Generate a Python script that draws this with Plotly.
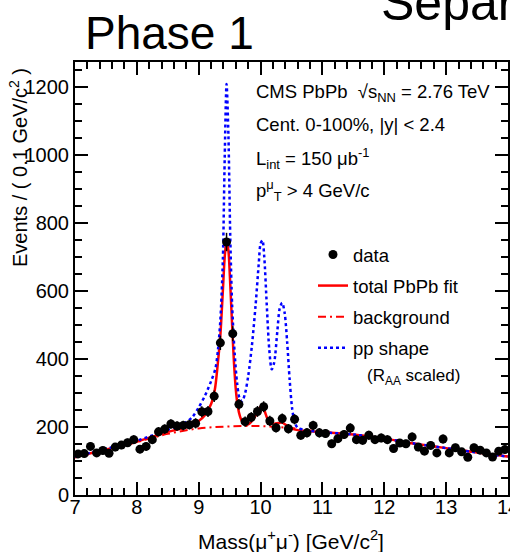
import plotly.graph_objects as go

# ---- data ----
mass_bins = [7.05, 7.15, 7.25, 7.35, 7.45, 7.55, 7.65, 7.75, 7.85, 7.95,
             8.05, 8.15, 8.25, 8.35, 8.45, 8.55, 8.65, 8.75, 8.85, 8.95,
             9.05, 9.15, 9.25, 9.35, 9.45, 9.55, 9.65, 9.75, 9.85, 9.95,
             10.05, 10.15, 10.25, 10.35, 10.45, 10.55, 10.65, 10.75, 10.85, 10.95,
             11.05, 11.15, 11.25, 11.35, 11.45, 11.55, 11.65, 11.75, 11.85, 11.95,
             12.05, 12.15, 12.25, 12.35, 12.45, 12.55, 12.65, 12.75, 12.85, 12.95,
             13.05, 13.15, 13.25, 13.35, 13.45, 13.55, 13.65, 13.75, 13.85, 13.95]
events = [121, 122, 143, 124, 131, 123, 141, 147, 154, 163,
          135, 143, 163, 186, 194, 209, 203, 205, 207, 211,
          245, 246, 291, 448, 745, 475, 267, 216, 229, 246,
          260, 218, 198, 225, 195, 223, 176, 183, 205, 183,
          181, 151, 166, 178, 197, 163, 161, 176, 163, 168,
          163, 137, 153, 151, 171, 141, 129, 146, 124, 165,
          124, 139, 127, 111, 139, 132, 124, 112, 129, 134]
errors = [11, 11, 12, 11, 11, 11, 12, 12, 12, 13,
          12, 12, 13, 14, 14, 14, 14, 14, 14, 15,
          16, 16, 17, 21, 27, 22, 16, 15, 15, 16,
          16, 15, 14, 15, 14, 15, 13, 14, 14, 14,
          13, 12, 13, 13, 14, 13, 13, 13, 13, 13,
          13, 12, 12, 12, 13, 12, 11, 12, 11, 13,
          11, 12, 11, 11, 12, 11, 11, 11, 11, 12]

fit_mass = [7.0, 7.5, 8.0, 8.5, 8.8, 9.0, 9.1, 9.2, 9.26, 9.31, 9.35, 9.39, 9.42, 9.45,
            9.48, 9.51, 9.54, 9.57, 9.6, 9.63, 9.67, 9.71, 9.76, 9.82, 9.88, 9.94, 9.99,
            10.03, 10.07, 10.11, 10.16, 10.22, 10.29, 10.35, 10.42, 10.5, 10.6, 10.8,
            11.0, 11.5, 12.0, 12.5, 13.0, 13.5, 14.0]
fit_total = [112, 134, 157, 186, 200, 218, 235, 268, 310, 390, 470, 600, 700, 750,
             720, 620, 500, 390, 310, 262, 230, 213, 207, 210, 222, 240, 258,
             265, 245, 225, 213, 210, 212, 213, 205, 196, 191, 188,
             185, 178, 166, 151, 138, 125, 113]

bkg_mass = [7.0, 7.5, 8.0, 8.5, 9.0, 9.5, 10.0, 10.5, 11.0, 11.5, 12.0, 12.5, 13.0, 13.5, 14.0]
bkg_vals = [110, 133, 156, 180, 196, 202, 203, 197, 186, 177, 166, 151, 138, 125, 113]

pp_mass = [7.0, 7.5, 8.0, 8.5, 8.8, 8.9, 9.0, 9.1, 9.2, 9.27, 9.31, 9.35, 9.39, 9.42, 9.45,
           9.48, 9.51, 9.54, 9.58, 9.62, 9.66, 9.7, 9.75, 9.8, 9.86, 9.92, 9.97, 10.0,
           10.03, 10.06, 10.1, 10.14, 10.18, 10.22, 10.27, 10.31, 10.35, 10.39, 10.43,
           10.47, 10.51, 10.55, 10.6, 10.7, 11.0, 11.5, 12.0, 12.5, 13.0, 13.5, 14.0]
pp_shape = [113, 136, 160, 192, 215, 230, 258, 292, 335, 372, 425, 515, 690, 990, 1210,
            1060, 760, 560, 420, 330, 285, 275, 300, 350, 440, 560, 680, 740,
            750, 700, 560, 430, 370, 390, 480, 550, 566, 535, 450,
            340, 255, 215, 198, 192, 185, 178, 166, 151, 138, 125, 113]

# ---- figure ----
FONT = "Liberation Sans, Arial, Helvetica, sans-serif"
L, R, T, B = 75, 508, 62, 495
W = R - L
H = B - T


def px(xp):
    return (xp - L) / W


def py(yp):
    return (B - yp) / H


fig = go.Figure()

fig.add_trace(go.Scatter(x=bkg_mass, y=bkg_vals, mode="lines", name="background",
                         line=dict(color="#ff0000", width=2, dash="8px,4px,2px,4px", shape="spline"),
                         legendgroup="c", legendrank=3))
fig.add_trace(go.Scatter(x=fit_mass, y=fit_total, mode="lines", name="total PbPb fit",
                         line=dict(color="#ff0000", width=2.5, shape="spline", smoothing=0.8),
                         legendgroup="b", legendrank=2))
fig.add_trace(go.Scatter(x=pp_mass, y=pp_shape, mode="lines", name="pp shape",
                         line=dict(color="#0000ff", width=2.5, dash="3px,3px", shape="spline", smoothing=0.8),
                         legendgroup="d", legendrank=4))
fig.add_trace(go.Scatter(x=mass_bins, y=events, mode="markers", name="data",
                         marker=dict(color="black", size=9, symbol="circle"),
                         error_y=dict(type="data", array=errors, color="black", thickness=1.5, width=0),
                         legendgroup="a", legendrank=1))

axis_common = dict(showgrid=False, zeroline=False, showline=True, linecolor="black", linewidth=2,
                   mirror="ticks", ticks="inside", ticklen=13, tickwidth=1.5, tickcolor="black",
                   automargin=False,
                   tickfont=dict(size=20, family=FONT, color="black"))

fig.update_xaxes(range=[7, 14], dtick=1, tick0=7, ticklabeloverflow="allow", ticklabelstandoff=-7,
                 minor=dict(dtick=0.2, ticks="inside", ticklen=7, tickwidth=1.5, tickcolor="black", showgrid=False),
                 **axis_common)
fig.update_yaxes(range=[0, 1275], dtick=200, tick0=0,
                 minor=dict(dtick=50, ticks="inside", ticklen=7, tickwidth=1.5, tickcolor="black", showgrid=False),
                 **axis_common)

annotations = [
    dict(text="Phase 1", x=px(83), y=py(33), xanchor="left", yanchor="middle",
         font=dict(size=46, family=FONT)),
    dict(text="Separ", x=px(379), y=py(3), xanchor="left", yanchor="middle",
         font=dict(size=50, family=FONT)),
    dict(text="Events / ( 0.1 GeV/c<sup>2</sup> )", x=px(18), y=py(168), textangle=-90,
         xanchor="center", yanchor="middle", font=dict(size=20, family=FONT)),
    dict(text="Mass(μ<sup>+</sup>μ<sup>-</sup>) [GeV/c<sup>2</sup>]", x=px(291), y=py(540),
         xanchor="center", yanchor="middle", font=dict(size=21, family=FONT)),
    dict(text="CMS PbPb  √s<sub>NN</sub> = 2.76 TeV", x=px(254), y=py(93), xanchor="left",
         yanchor="middle", font=dict(size=18.5, family=FONT)),
    dict(text="Cent. 0-100%, |y| < 2.4", x=px(254), y=py(124), xanchor="left",
         yanchor="middle", font=dict(size=18.5, family=FONT)),
    dict(text="L<sub>int</sub> = 150 μb<sup>-1</sup>", x=px(254), y=py(158), xanchor="left",
         yanchor="middle", font=dict(size=18.5, family=FONT)),
    dict(text="p<sup>μ</sup><sub>T</sub> > 4 GeV/c", x=px(254), y=py(190), xanchor="left",
         yanchor="middle", font=dict(size=18.5, family=FONT)),
    dict(text="(R<sub>AA</sub> scaled)", x=px(365), y=py(377), xanchor="left",
         yanchor="middle", font=dict(size=17, family=FONT)),
]
for a in annotations:
    a.update(xref="paper", yref="paper", showarrow=False)

fig.update_layout(
    width=510, height=552,
    margin=dict(l=L, r=510 - R, t=T, b=552 - B, autoexpand=False),
    plot_bgcolor="white", paper_bgcolor="white",
    font=dict(family=FONT, size=18, color="black"),
    showlegend=True,
    legend=dict(x=px(313), y=py(236), xanchor="left", yanchor="top",
                bgcolor="rgba(0,0,0,0)", font=dict(size=18.5, family=FONT),
                traceorder="grouped", tracegroupgap=4),
    annotations=annotations,
)

fig.write_html("out.html")
